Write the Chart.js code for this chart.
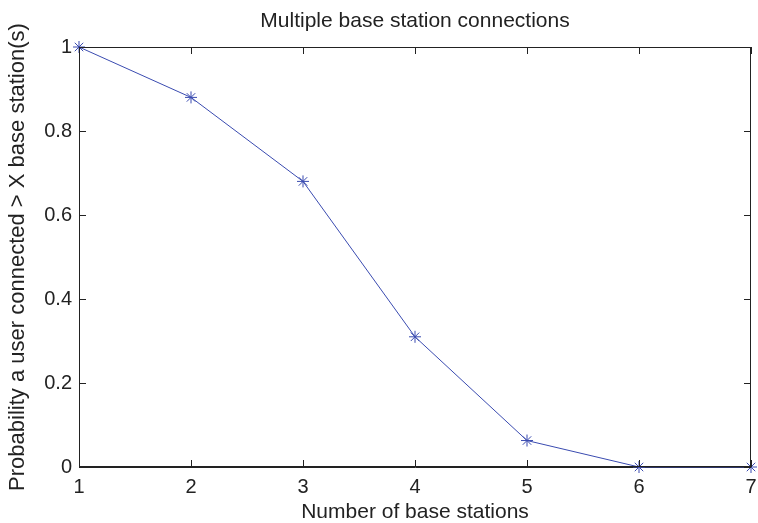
<!DOCTYPE html>
<html lang="en">
<head>
    <meta charset="UTF-8">
    <title>Multiple base station connections</title>
    <script src="https://cdn.jsdelivr.net/npm/chart.js"></script>
    <style>
        body { margin: 0; background: #fff; }
        canvas { display: block; }
    </style>
</head>
<body>
    <canvas id="bsChart" width="758" height="523"></canvas>
    <script>
        // values
        const stations = [1, 2, 3, 4, 5, 6, 7];
        const probConnected = [1, 0.88, 0.68, 0.31, 0.063, 0, 0];
        const yTicks = [0, 0.2, 0.4, 0.6, 0.8, 1];

        const FONT = "'Liberation Sans', Arial, Helvetica, sans-serif";
        const INK = "#222";

        // MATLAB style box with inward ticks on all four sides
        const boxTicks = {
            id: "boxTicks",
            afterDraw(chart) {
                const ctx = chart.ctx;
                const a = chart.chartArea;
                const xs = chart.scales.x, ys = chart.scales.y;
                const len = 7;
                ctx.save();
                ctx.strokeStyle = INK;
                ctx.lineWidth = 1;
                ctx.strokeRect(a.left + 0.5, a.top + 0.5, a.right - a.left - 1, a.bottom - a.top - 1);
                ctx.beginPath();
                xs.ticks.forEach(t => {
                    const px = Math.round(xs.getPixelForValue(t.value)) + 0.5;
                    ctx.moveTo(px, a.bottom); ctx.lineTo(px, a.bottom - len);
                    ctx.moveTo(px, a.top); ctx.lineTo(px, a.top + len);
                });
                ys.ticks.forEach(t => {
                    const py = Math.round(ys.getPixelForValue(t.value)) + 0.5;
                    ctx.moveTo(a.left, py); ctx.lineTo(a.left + len, py);
                    ctx.moveTo(a.right, py); ctx.lineTo(a.right - len, py);
                });
                ctx.stroke();
                ctx.restore();
            }
        };

        const ctx = document.getElementById("bsChart").getContext("2d");
        new Chart(ctx, {
            type: "line",
            data: {
                datasets: [{
                    data: stations.map((s, i) => ({ x: s, y: probConnected[i] })),
                    borderColor: "#3a4bb0",
                    borderWidth: 1,
                    pointStyle: "star",
                    pointRadius: 6,
                    pointBorderWidth: 1,
                    pointBorderColor: "#3a4bb0",
                    pointBackgroundColor: "#3a4bb0",
                    tension: 0,
                    clip: false
                }]
            },
            options: {
                responsive: false,
                animation: false,
                devicePixelRatio: 1,
                layout: { padding: 0 },
                plugins: {
                    legend: { display: false },
                    tooltip: { enabled: false },
                    title: {
                        display: true,
                        fullSize: false,
                        text: "Multiple base station connections",
                        color: INK,
                        font: { family: FONT, size: 21, weight: "normal", lineHeight: 1.2 },
                        padding: { top: 8.9, bottom: 12.9 }
                    }
                },
                scales: {
                    x: {
                        type: "linear",
                        min: 1,
                        max: 7,
                        grid: { display: false, drawTicks: false },
                        border: { display: true, color: INK },
                        ticks: {
                            stepSize: 1,
                            padding: 8,
                            color: INK,
                            font: { family: FONT, size: 20 }
                        },
                        title: {
                            display: true,
                            text: "Number of base stations",
                            color: INK,
                            font: { family: FONT, size: 21, lineHeight: 1 },
                            padding: { top: 0, bottom: 0.5 }
                        },
                        afterFit(scale) {
                            scale.height = 56;
                            scale.paddingLeft = 0;
                            scale.paddingRight = 5;
                        }
                    },
                    y: {
                        min: 0,
                        max: 1,
                        grid: { display: false, drawTicks: false },
                        border: { display: true, color: INK },
                        afterBuildTicks(scale) {
                            scale.ticks = yTicks.map(v => ({ value: v }));
                        },
                        ticks: {
                            padding: 7,
                            color: INK,
                            font: { family: FONT, size: 20 },
                            callback: v => String(v)
                        },
                        title: {
                            display: true,
                            text: "Probability a user connected > X base station(s)",
                            color: INK,
                            font: { family: FONT, size: 22, lineHeight: 1 },
                            padding: { top: 7, bottom: 0 }
                        },
                        afterFit(scale) { scale.width = 79; }
                    }
                }
            },
            plugins: [boxTicks]
        });
    </script>
</body>
</html>
